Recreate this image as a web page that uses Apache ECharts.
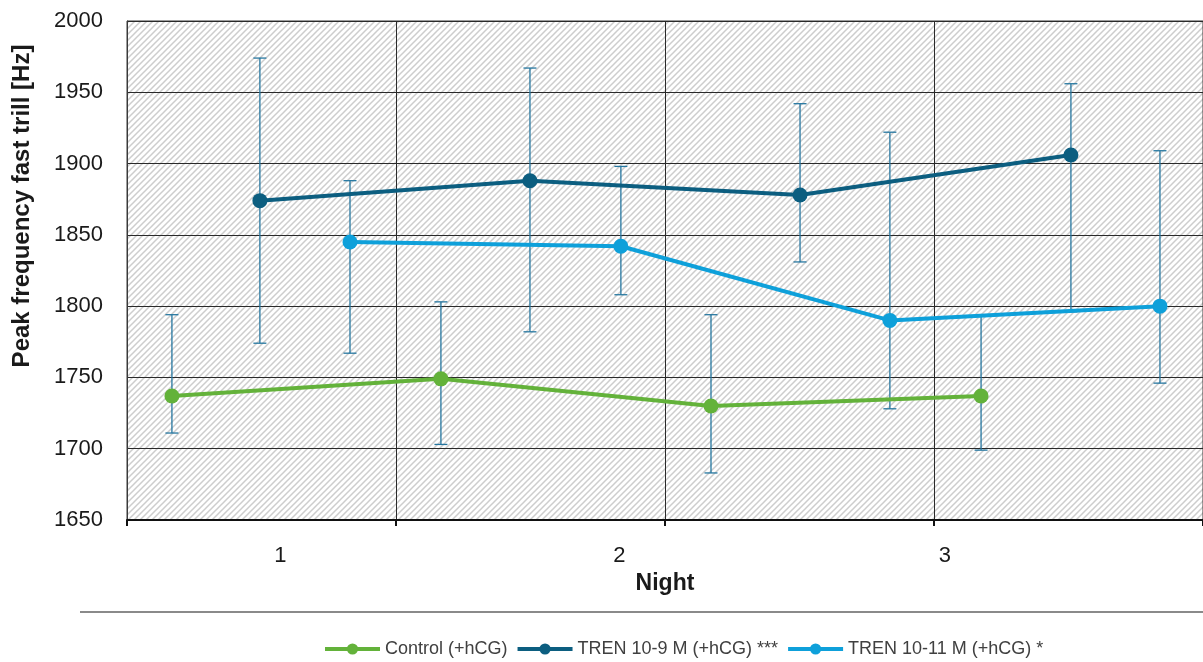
<!DOCTYPE html>
<html>
<head>
<meta charset="utf-8">
<script src="https://cdn.jsdelivr.net/npm/echarts@6/dist/echarts.min.js"></script>
<style>
html,body{margin:0;padding:0;background:#fff;}
#chart{width:1203px;height:662px;}
</style>
</head>
<body>
<div id="chart"></div>
<script>
// ---- Data ----
const seriesNames = ['Control (+hCG)', 'TREN 10-9 M (+hCG) ***', 'TREN 10-11 M (+hCG) *'];
// x position of each point on the "Night" axis
const controlX = [0.167, 1.167, 2.171, 3.175];
const tren9X   = [0.494, 1.498, 2.502, 3.509];
const tren11X  = [0.829, 1.836, 2.836, 3.840];
// means
const controlMean = [1737, 1749, 1730, 1737];
const tren9Mean   = [1874, 1888, 1878, 1906];
const tren11Mean  = [1845, 1842, 1790, 1800];
// error bar low / high
const controlLow  = [1711, 1703, 1683, 1699];
const controlHigh = [1794, 1803, 1794, 1793];
const tren9Low    = [1774, 1782, 1831, 1796];
const tren9High   = [1974, 1967, 1942, 1956];
const tren11Low   = [1767, 1808, 1728, 1746];
const tren11High  = [1888, 1898, 1922, 1909];
// x tick labels and where they sit on the axis
const nightLabels = ['1', '2', '3'];
const nightLabelAt = [0.57, 1.83, 3.04];

const colors = ['#63b23a', '#0c5e80', '#0ea0da'];
const errColor = '#2677a0';

// hatch pattern
function makeHatch() {
  const s = 6;
  const c = document.createElement('canvas');
  c.width = s; c.height = s;
  const g = c.getContext('2d');
  g.fillStyle = '#ffffff';
  g.fillRect(0, 0, s, s);
  g.strokeStyle = '#cdcdcd';
  g.lineWidth = 1.5;
  g.beginPath();
  g.moveTo(-1, s + 1); g.lineTo(s + 1, -1);
  g.moveTo(-1, 1); g.lineTo(1, -1);
  g.moveTo(s - 1, s + 1); g.lineTo(s + 1, s - 1);
  g.stroke();
  return c;
}

function pts(xs, ys) { return xs.map((x, i) => [x, ys[i]]); }
function errData(xs, lo, hi) { return xs.map((x, i) => [x, lo[i], hi[i]]); }

function errRender(params, api) {
  const x = api.value(0);
  const lo = api.coord([x, api.value(1)]);
  const hi = api.coord([x, api.value(2)]);
  const cap = 6.5;
  const style = { stroke: errColor, lineWidth: 1.3, fill: null };
  return {
    type: 'group',
    children: [
      { type: 'line', shape: { x1: lo[0], y1: lo[1], x2: hi[0], y2: hi[1] }, style },
      { type: 'line', shape: { x1: lo[0] - cap, y1: lo[1], x2: lo[0] + cap, y2: lo[1] }, style },
      { type: 'line', shape: { x1: hi[0] - cap, y1: hi[1], x2: hi[0] + cap, y2: hi[1] }, style }
    ]
  };
}

const lineSeries = (name, data, color) => ({
  name, type: 'line', data, xAxisIndex: 0,
  symbol: 'circle', symbolSize: 15,
  lineStyle: { color, width: 4 },
  itemStyle: { color },
  z: 5, animation: false
});
const errSeries = (data) => ({
  type: 'custom', renderItem: errRender, data, xAxisIndex: 0,
  encode: { x: 0, y: [1, 2] }, z: 3, silent: true, animation: false
});

const chart = echarts.init(document.getElementById('chart'), null, { renderer: 'canvas' });
const font = 'Liberation Sans, Arial, sans-serif';

chart.setOption({
  animation: false,
  textStyle: { fontFamily: font },
  grid: {
    left: 127, right: -2, top: 21, bottom: 142,
    show: true,
    backgroundColor: { image: makeHatch(), repeat: 'repeat' },
    borderColor: '#3a3a3a', borderWidth: 1
  },
  legend: {
    top: 635, left: 318,
    data: seriesNames,
    itemWidth: 55, itemHeight: 14, itemGap: 8,
    lineStyle: { width: 4 },
    textStyle: { fontSize: 18, color: '#404040', fontFamily: font }
  },
  xAxis: [{
    type: 'value', min: 0, max: 4, interval: 1,
    name: 'Night', nameLocation: 'middle', nameGap: 52,
    nameTextStyle: { fontSize: 23, fontWeight: 'bold', color: '#1a1a1a', fontFamily: font },
    axisLine: { show: true, lineStyle: { color: '#111', width: 2 } },
    axisTick: { show: true, length: 6, lineStyle: { color: '#111', width: 2 } },
    axisLabel: { show: false },
    splitLine: { show: true, lineStyle: { color: '#2a2a2a', width: 1 } }
  }, {
    type: 'value', min: 0, max: 4, position: 'bottom',
    axisLine: { show: false }, axisTick: { show: false },
    splitLine: { show: false },
    axisLabel: {
      show: true, customValues: nightLabelAt, margin: 25,
      fontSize: 22, color: '#1a1a1a', fontFamily: font,
      formatter: (v) => { const i = nightLabelAt.indexOf(v); return i >= 0 ? nightLabels[i] : ''; }
    }
  }],
  yAxis: {
    type: 'value', min: 1650, max: 2000, interval: 50,
    axisLine: { show: true, lineStyle: { color: '#3a3a3a', width: 1 } },
    axisTick: { show: false },
    axisLabel: { fontSize: 22, color: '#1a1a1a', margin: 24, fontFamily: font,
                 formatter: (v) => String(v) },
    splitLine: { show: true, lineStyle: { color: '#2a2a2a', width: 1 } }
  },
  graphic: [
    { type: 'text', x: 22, y: 206, rotation: Math.PI / 2,
      style: { text: 'Peak frequency fast trill [Hz]', font: 'bold 24px ' + font, fill: '#1a1a1a',
               textAlign: 'center', textVerticalAlign: 'middle' } },
    { type: 'line', shape: { x1: 80, y1: 612, x2: 1203, y2: 612 },
      style: { stroke: '#8a8a8a', lineWidth: 2 } }
  ],
  series: [
    errSeries(errData(controlX, controlLow, controlHigh)),
    errSeries(errData(tren9X, tren9Low, tren9High)),
    errSeries(errData(tren11X, tren11Low, tren11High)),
    lineSeries(seriesNames[0], pts(controlX, controlMean), colors[0]),
    lineSeries(seriesNames[1], pts(tren9X, tren9Mean), colors[1]),
    lineSeries(seriesNames[2], pts(tren11X, tren11Mean), colors[2])
  ]
});
</script>
</body>
</html>
